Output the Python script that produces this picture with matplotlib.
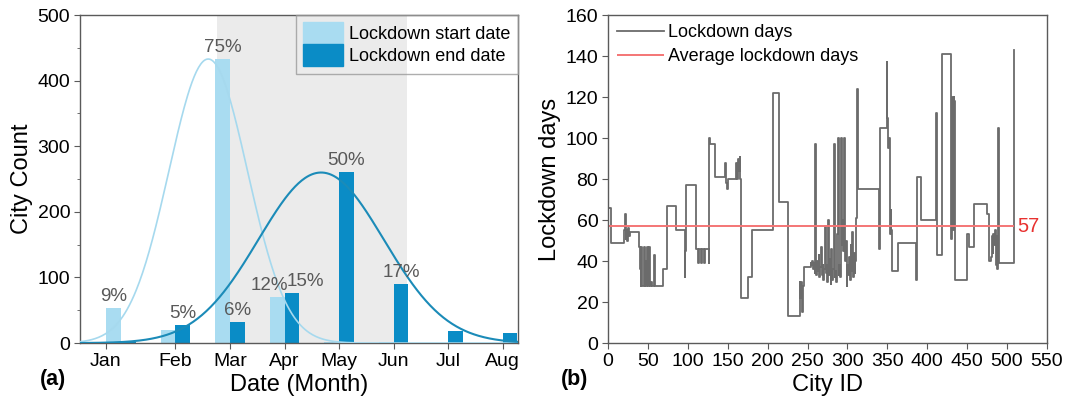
import numpy as np
import matplotlib.pyplot as plt
from matplotlib.patches import Patch

plt.rcParams['font.family'] = ['Liberation Sans', 'DejaVu Sans']

# ---- (a) lockdown start / end month counts ----
months = ['Jan', 'Feb', 'Mar', 'Apr', 'May', 'Jun', 'Jul', 'Aug']
start_counts = [54, 20, 433, 70, 1, 2, 0, 0]
end_counts = [1, 28, 32, 77, 261, 90, 19, 15]
start_labelled = ['Jan', 'Mar', 'Apr']
end_labelled = ['Feb', 'Mar', 'Apr', 'May', 'Jun']

# normal fits: peak, centre (month number), spread
start_fit = (433, 2.6, 0.72)
end_fit = (260, 4.67, 1.15)

# ---- (b) lockdown days per city, stored as runs of equal values ----
run_days = [66, 49, 55, 63, 51, 55, 50, 56, 52, 54, 47, 36,
            28, 47, 28, 47, 28, 40, 28, 47, 28, 47, 28, 30, 28,
            43, 28, 36, 67, 55, 32, 45, 77,
            46, 39, 46, 39, 46, 39, 46, 39,
            100, 97, 81, 88, 78, 75, 77, 80, 82, 88, 80, 90, 84, 91, 80,
            22, 32, 55, 122, 69, 13, 30, 22, 30, 15, 28, 37,
            39, 38, 40, 36, 39, 34, 97,
            33, 40, 35, 43, 32, 37, 47, 33, 38, 31, 36,
            57, 34, 38, 30, 60, 33, 41, 29, 46, 31, 36, 97, 32, 35, 30, 53,
            100, 33, 38, 32, 100, 48, 60, 45, 100, 40, 50, 28, 38, 33, 42,
            31, 48, 35, 54, 32, 44, 34, 40, 61, 124,
            75, 46, 105, 137, 110, 95, 100, 53, 65, 55, 35, 49, 31, 81, 60,
            112, 43, 141, 51, 120, 55, 120, 118, 31, 53, 47, 68, 63, 40,
            42, 52, 44, 53, 48, 55, 38, 52, 36, 105, 39, 143]
run_lengths = [4, 16, 1, 1, 1, 1, 1, 1, 1, 12, 1, 1,
               1, 1, 2, 1, 1, 1, 1, 1, 2, 1, 1, 1, 3,
               1, 10, 5, 11, 11, 1, 1, 12,
               3, 1, 3, 1, 2, 1, 5, 1,
               1, 6, 13, 1, 1, 1, 1, 9, 1, 1, 1, 1, 1, 1, 1,
               8, 5, 27, 7, 12, 14, 1, 1, 1, 1, 1, 9,
               1, 1, 1, 1, 1, 1, 1,
               1, 1, 1, 1, 1, 1, 1, 1, 1, 1, 1,
               1, 1, 1, 1, 1, 1, 1, 1, 1, 1, 1, 1, 1, 1, 1, 1,
               1, 1, 1, 1, 1, 1, 1, 1, 1, 1, 1, 1, 1, 1, 1,
               1, 1, 1, 1, 1, 1, 1, 1, 1, 1,
               27, 1, 8, 1, 1, 1, 1, 1, 1, 1, 7, 23, 1, 5, 19,
               1, 7, 11, 1, 1, 1, 1, 1, 15, 2, 6, 17, 3, 2,
               1, 1, 1, 1, 1, 1, 1, 1, 1, 1, 19, 1]
avg_days = 57

light_blue = '#a9dcf1'
dark_blue = '#0a8cc6'
spine_grey = '#5a5a5a'

fig = plt.figure(figsize=(10.67, 4.07), dpi=100)
ax1 = fig.add_axes([0.075, 0.157, 0.4105, 0.806])
ax2 = fig.add_axes([0.5698, 0.157, 0.4114, 0.806])

# ---------------- panel (a) ----------------
x = np.arange(1, len(months) + 1)
w = 0.27
ax1.axvspan(2.76, 6.25, color='#ebebeb', zorder=0, lw=0)
ax1.bar(x - w / 2, start_counts, w, color=light_blue, zorder=2)
ax1.bar(x + w / 2, end_counts, w, color=dark_blue, zorder=2)

xs = np.linspace(0.25, 8.28, 400)
for (peak, mu, sd), col, lw in [(start_fit, '#a6d9ee', 1.2), (end_fit, '#1b8bb8', 1.5)]:
    ax1.plot(xs, peak * np.exp(-(xs - mu) ** 2 / (2 * sd ** 2)), color=col, lw=lw, zorder=3)

start_total = sum(start_counts)
end_total = sum(end_counts)
label_shift = {('start', 'Apr'): -6, ('end', 'Apr'): 10}
for kind, counts, total, names, dx in [('start', start_counts, start_total, start_labelled, -w / 2),
                                        ('end', end_counts, end_total, end_labelled, w / 2)]:
    for name in names:
        i = months.index(name)
        ax1.annotate(f'{round(100 * counts[i] / total)}%', (x[i] + dx, counts[i]),
                     xytext=(label_shift.get((kind, name), 0), 2), textcoords='offset points',
                     ha='center', va='bottom', fontsize=13.5, color='#595959', zorder=4)

ax1.set_xlim(0.25, 8.28)
ax1.set_ylim(0, 500)
# the Jan tick sits a little left of its bar pair
tick_pos = x.astype(float)
tick_pos[0] -= 0.28
ax1.set_xticks(tick_pos)
ax1.set_xticklabels(months)
ax1.set_yticks(range(0, 501, 100))
ax1.set_yticks(range(50, 500, 100), minor=True)
ax1.set_xlabel('Date (Month)', fontsize=17, labelpad=3)
ax1.set_ylabel('City Count', fontsize=17, labelpad=3)
leg = ax1.legend(handles=[Patch(color=light_blue), Patch(color=dark_blue)],
                 labels=['Lockdown start date', 'Lockdown end date'],
                 loc='upper right', borderaxespad=0, fontsize=13,
                 handlelength=2.2, handleheight=1.5, labelspacing=0.0,
                 handletextpad=0.35, borderpad=0.4, fancybox=False)
leg.get_frame().set_facecolor('none')
leg.get_frame().set_edgecolor('#9a9a9a')
fig.text(0.037, 0.055, '(a)', fontsize=15.5, fontweight='bold')

# ---------------- panel (b) ----------------
days = np.repeat(run_days, run_lengths)
city_id = np.arange(len(days))
ax2.step(city_id, days, where='post', color='#6b6b6b', lw=1.3, label='Lockdown days')
ax2.hlines(avg_days, 0, city_id[-1], color='#f47575', lw=1.4, label='Average lockdown days')
ax2.text(city_id[-1] + 4, avg_days, str(avg_days), color='#e8312f', fontsize=14.5,
         ha='left', va='center')
ax2.set_xlim(0, 550)
ax2.set_ylim(0, 160)
ax2.set_xticks(range(0, 551, 50))
ax2.set_yticks(range(0, 161, 20))
ax2.set_xlabel('City ID', fontsize=17, labelpad=3)
ax2.set_ylabel('Lockdown days', fontsize=17, labelpad=3)
ax2.legend(loc='upper left', frameon=False, fontsize=13, handlelength=2.6,
           handletextpad=0.2, labelspacing=0.4, borderaxespad=0.1)
fig.text(0.526, 0.055, '(b)', fontsize=15.5, fontweight='bold')

for ax in (ax1, ax2):
    for s in ax.spines.values():
        s.set_color(spine_grey)
        s.set_linewidth(1.0)
    ax.tick_params(which='both', direction='out', color=spine_grey, labelsize=14, pad=3)
    ax.tick_params(which='major', length=4)
    ax.tick_params(which='minor', length=2.5)

fig.savefig('out.png', dpi=100)
